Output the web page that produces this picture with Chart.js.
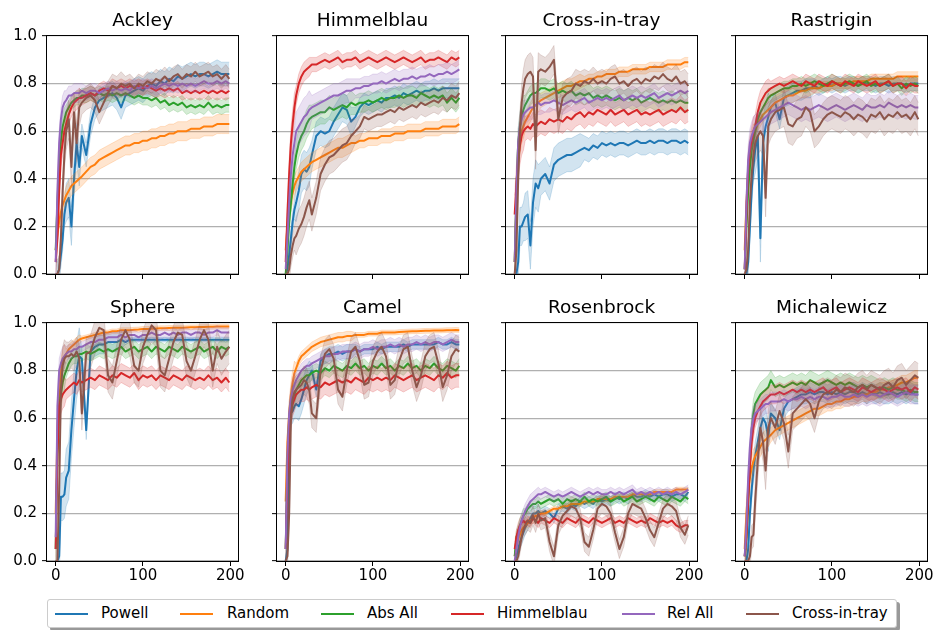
<!DOCTYPE html>
<html>
<head>
<meta charset="utf-8">
<script src="https://cdn.jsdelivr.net/npm/chart.js@4.4.0/dist/chart.umd.min.js"></script>
<style>
  html, body { margin: 0; padding: 0; background: #fff; }
  #fig { position: relative; width: 935px; height: 630px; overflow: hidden; font-family: "DejaVu Sans", sans-serif; }
  #fig canvas { position: absolute; }
  #legend { position: absolute; left: 47px; top: 599px; width: 848px; height: 27px; border: 1px solid #cccccc; border-radius: 3px; background: #fff; box-shadow: 3px 3px 0 #999; }
  .item { position: absolute; top: 0; height: 27px; line-height: 27px; font-size: 15px; color: #000; white-space: nowrap; }
  .swatch { position: absolute; top: 13px; width: 33px; height: 2px; }
</style>
</head>
<body>
<div id="fig"><div id="legend"></div></div>
<script>
const X = [0, 2, 4, 6, 8, 10, 12,
  15, 18, 21, 24, 27, 30,
  35, 40, 45, 50, 55, 60, 65, 70, 75, 80, 85, 90, 95, 100,
  105, 110, 115, 120, 125, 130, 135, 140, 145, 150, 155, 160, 165, 170, 175, 180, 185, 190, 195, 199];

const SERIES = ['Powell', 'Random', 'Abs All', 'Himmelblau', 'Rel All', 'Cross-in-tray'];
const COLORS = ['#1f77b4', '#ff7f0e', '#2ca02c', '#d62728', '#9467bd', '#8c564b'];

const X_TICKS = [0, 100, 200];
const Y_TICKS = [0, 0.2, 0.4, 0.6, 0.8, 1.0];

// band half width: from iteration 0, 12, 30, 80 on
const BAND_FROM = [0, 12, 30, 80];

// one list per series, in SERIES order
const ackley = [
  [0, 0, 0.02, 0.08, 0.15, 0.25, 0.30,
   0.32, 0.20, 0.40, 0.55, 0.45, 0.58,
   0.50, 0.63, 0.70, 0.73, 0.74, 0.75, 0.76, 0.74, 0.70, 0.75, 0.76, 0.77, 0.78, 0.77,
   0.79, 0.80, 0.79, 0.81, 0.80, 0.82, 0.81, 0.83, 0.82, 0.83, 0.84, 0.83, 0.84, 0.84, 0.83, 0.84, 0.85, 0.84, 0.84, 0.84],
  [0.10, 0.17, 0.22, 0.26, 0.29, 0.31, 0.33,
   0.35, 0.37, 0.38, 0.39, 0.40, 0.41,
   0.43, 0.45, 0.46, 0.48, 0.49, 0.50, 0.51, 0.52, 0.53, 0.54, 0.54, 0.55, 0.55, 0.56,
   0.56, 0.57, 0.57, 0.58, 0.58, 0.59, 0.59, 0.60, 0.60, 0.60, 0.61, 0.61, 0.61, 0.62, 0.62, 0.62, 0.63, 0.63, 0.63, 0.63],
  [0.10, 0.30, 0.45, 0.56, 0.62, 0.65, 0.68,
   0.70, 0.72, 0.73, 0.74, 0.74, 0.75,
   0.75, 0.76, 0.75, 0.76, 0.75, 0.76, 0.75, 0.76, 0.75, 0.76, 0.75, 0.74, 0.75, 0.74,
   0.74, 0.73, 0.74, 0.72, 0.73, 0.71, 0.72, 0.71, 0.72, 0.70, 0.71, 0.70, 0.71, 0.70, 0.72, 0.70, 0.71, 0.70, 0.71, 0.71],
  [0.05, 0.15, 0.35, 0.50, 0.55, 0.60, 0.63,
   0.67, 0.70, 0.72, 0.73, 0.74, 0.74,
   0.75, 0.76, 0.75, 0.77, 0.78, 0.77, 0.79, 0.78, 0.79, 0.78, 0.79, 0.78, 0.79, 0.78,
   0.79, 0.78, 0.77, 0.78, 0.77, 0.78, 0.77, 0.78, 0.76, 0.77, 0.76, 0.77, 0.76, 0.77, 0.76, 0.77, 0.76, 0.77, 0.76, 0.77],
  [0.05, 0.35, 0.55, 0.65, 0.70, 0.72, 0.73,
   0.75, 0.75, 0.76, 0.76, 0.76, 0.77,
   0.76, 0.77, 0.77, 0.76, 0.77, 0.78, 0.77, 0.78, 0.77, 0.78, 0.77, 0.79, 0.78, 0.79,
   0.78, 0.79, 0.78, 0.79, 0.80, 0.79, 0.80, 0.79, 0.80, 0.79, 0.80, 0.79, 0.80, 0.81, 0.80, 0.80, 0.81, 0.80, 0.81, 0.80],
  [0, 0, 0.02, 0.15, 0.35, 0.50, 0.60,
   0.65, 0.45, 0.68, 0.55, 0.70, 0.72,
   0.74, 0.75, 0.73, 0.68, 0.72, 0.76, 0.79, 0.78, 0.80, 0.79, 0.80, 0.78, 0.80, 0.79,
   0.81, 0.80, 0.82, 0.81, 0.83, 0.81, 0.83, 0.84, 0.82, 0.84, 0.83, 0.85, 0.83, 0.84, 0.85, 0.83, 0.84, 0.82, 0.84, 0.82]
];
const ackleyBand = [[0.05, 0.08, 0.05, 0.05], [0.03, 0.04, 0.04, 0.04], [0.05, 0.03, 0.03, 0.03],
                    [0.05, 0.04, 0.03, 0.03], [0.05, 0.04, 0.03, 0.03], [0.06, 0.08, 0.05, 0.04]];

const himmelblau = [
  [0, 0.02, 0.08, 0.15, 0.22, 0.27, 0.30,
   0.35, 0.42, 0.44, 0.43, 0.45, 0.50,
   0.58, 0.60, 0.59, 0.60, 0.64, 0.67, 0.70, 0.69, 0.64, 0.66, 0.70, 0.72, 0.71, 0.72,
   0.73, 0.72, 0.74, 0.74, 0.75, 0.74, 0.76, 0.75, 0.76, 0.77, 0.76, 0.77, 0.77, 0.78, 0.77, 0.78, 0.78, 0.78, 0.78, 0.78],
  [0.10, 0.20, 0.26, 0.31, 0.34, 0.37, 0.39,
   0.41, 0.43, 0.44, 0.45, 0.46, 0.47,
   0.48, 0.49, 0.50, 0.51, 0.52, 0.53, 0.53, 0.54, 0.55, 0.55, 0.56, 0.56, 0.57, 0.57,
   0.57, 0.58, 0.58, 0.58, 0.59, 0.59, 0.59, 0.60, 0.60, 0.60, 0.60, 0.61, 0.61, 0.61, 0.61, 0.62, 0.62, 0.62, 0.62, 0.63],
  [0, 0.10, 0.22, 0.30, 0.38, 0.45, 0.50,
   0.55, 0.58, 0.60, 0.63, 0.65, 0.66,
   0.67, 0.68, 0.68, 0.70, 0.69, 0.70, 0.71, 0.70, 0.72, 0.71, 0.72, 0.72, 0.73, 0.72,
   0.73, 0.74, 0.73, 0.74, 0.74, 0.75, 0.74, 0.75, 0.75, 0.74, 0.76, 0.75, 0.74, 0.75, 0.74, 0.75, 0.72, 0.74, 0.72, 0.74],
  [0.05, 0.25, 0.42, 0.55, 0.63, 0.70, 0.75,
   0.80, 0.83, 0.85, 0.86, 0.87, 0.88,
   0.88, 0.89, 0.90, 0.89, 0.90, 0.91, 0.89, 0.90, 0.90, 0.91, 0.89, 0.90, 0.91, 0.90,
   0.89, 0.90, 0.91, 0.90, 0.89, 0.90, 0.91, 0.90, 0.89, 0.90, 0.91, 0.89, 0.90, 0.90, 0.91, 0.90, 0.89, 0.91, 0.90, 0.91],
  [0.02, 0.15, 0.30, 0.42, 0.50, 0.55, 0.60,
   0.62, 0.64, 0.66, 0.67, 0.69, 0.70,
   0.71, 0.72, 0.73, 0.74, 0.75, 0.75, 0.76, 0.77, 0.77, 0.78, 0.78, 0.79, 0.79, 0.80,
   0.80, 0.81, 0.80, 0.81, 0.82, 0.81, 0.82, 0.82, 0.83, 0.82, 0.83, 0.83, 0.84, 0.83, 0.84, 0.84, 0.85, 0.84, 0.85, 0.86],
  [0, 0, 0.02, 0.08, 0.12, 0.15, 0.16,
   0.19, 0.21, 0.24, 0.28, 0.31, 0.25,
   0.32, 0.42, 0.46, 0.49, 0.50, 0.52, 0.54, 0.55, 0.58, 0.60, 0.62, 0.66, 0.65, 0.66,
   0.67, 0.67, 0.68, 0.69, 0.68, 0.70, 0.69, 0.70, 0.71, 0.70, 0.72, 0.71, 0.72, 0.73, 0.72, 0.74, 0.73, 0.75, 0.74, 0.76]
];
const himmelblauBand = [[0.04, 0.08, 0.06, 0.04], [0.04, 0.04, 0.04, 0.03], [0.05, 0.06, 0.05, 0.04],
                        [0.06, 0.04, 0.03, 0.03], [0.06, 0.08, 0.05, 0.04], [0.05, 0.08, 0.07, 0.05]];

const crossInTray = [
  [0, 0, 0.05, 0.20, 0.20, 0.22, 0.24,
   0.25, 0.12, 0.30, 0.38, 0.36, 0.40,
   0.42, 0.38, 0.46, 0.48, 0.49, 0.50, 0.50, 0.51, 0.52, 0.53, 0.52, 0.54, 0.53, 0.55,
   0.54, 0.55, 0.54, 0.55, 0.55, 0.54, 0.55, 0.56, 0.55, 0.55, 0.56, 0.55, 0.56, 0.56, 0.55, 0.56, 0.56, 0.55, 0.56, 0.55],
  [0.05, 0.30, 0.48, 0.55, 0.60, 0.62, 0.64,
   0.66, 0.68, 0.70, 0.71, 0.72, 0.73,
   0.74, 0.75, 0.76, 0.77, 0.78, 0.79, 0.79, 0.80, 0.81, 0.81, 0.82, 0.82, 0.83, 0.83,
   0.84, 0.84, 0.84, 0.85, 0.85, 0.85, 0.86, 0.86, 0.86, 0.86, 0.87, 0.87, 0.87, 0.87, 0.88, 0.88, 0.88, 0.88, 0.89, 0.89],
  [0.05, 0.35, 0.55, 0.62, 0.66, 0.69, 0.71,
   0.73, 0.75, 0.76, 0.76, 0.77, 0.78,
   0.78, 0.77, 0.78, 0.76, 0.77, 0.76, 0.77, 0.75, 0.76, 0.75, 0.76, 0.74, 0.75, 0.74,
   0.75, 0.74, 0.73, 0.74, 0.73, 0.74, 0.73, 0.74, 0.72, 0.73, 0.74, 0.73, 0.72, 0.73, 0.72, 0.73, 0.72, 0.73, 0.72, 0.72],
  [0.25, 0.38, 0.48, 0.54, 0.58, 0.60, 0.61,
   0.62, 0.61, 0.63, 0.62, 0.63, 0.64,
   0.63, 0.65, 0.64, 0.65, 0.64, 0.66, 0.65, 0.67, 0.68, 0.66, 0.68, 0.67, 0.69, 0.68,
   0.67, 0.69, 0.67, 0.68, 0.69, 0.67, 0.68, 0.69, 0.67, 0.68, 0.67, 0.68, 0.69, 0.67, 0.68, 0.69, 0.68, 0.70, 0.68, 0.69],
  [0.05, 0.35, 0.55, 0.62, 0.65, 0.67, 0.68,
   0.69, 0.70, 0.70, 0.71, 0.72, 0.71,
   0.72, 0.72, 0.73, 0.72, 0.71, 0.72, 0.73, 0.72, 0.73, 0.74, 0.72, 0.73, 0.74, 0.73,
   0.74, 0.73, 0.74, 0.75, 0.73, 0.74, 0.75, 0.74, 0.75, 0.74, 0.75, 0.76, 0.74, 0.75, 0.76, 0.75, 0.76, 0.77, 0.76, 0.77],
  [0, 0.10, 0.40, 0.60, 0.72, 0.78, 0.82,
   0.84, 0.85, 0.83, 0.52, 0.85, 0.86,
   0.85, 0.87, 0.90, 0.65, 0.74, 0.76, 0.77, 0.80, 0.79, 0.81, 0.80, 0.82, 0.80, 0.81,
   0.80, 0.82, 0.83, 0.80, 0.81, 0.79, 0.81, 0.82, 0.80, 0.82, 0.81, 0.83, 0.82, 0.84, 0.82, 0.81, 0.83, 0.80, 0.81, 0.79]
];
const crossInTrayBand = [[0.08, 0.10, 0.07, 0.05], [0.05, 0.04, 0.03, 0.02], [0.06, 0.04, 0.04, 0.04],
                         [0.08, 0.05, 0.05, 0.05], [0.06, 0.05, 0.04, 0.04], [0.08, 0.08, 0.06, 0.05]];

const rastrigin = [
  [0, 0, 0.05, 0.20, 0.35, 0.45, 0.52,
   0.58, 0.15, 0.55, 0.62, 0.66, 0.70,
   0.72, 0.65, 0.74, 0.75, 0.76, 0.77, 0.77, 0.78, 0.78, 0.79, 0.78, 0.79, 0.80, 0.79,
   0.80, 0.80, 0.79, 0.80, 0.80, 0.79, 0.80, 0.80, 0.80, 0.79, 0.80, 0.80, 0.79, 0.80, 0.80, 0.80, 0.79, 0.80, 0.80, 0.80],
  [0.10, 0.30, 0.42, 0.50, 0.55, 0.58, 0.60,
   0.63, 0.65, 0.67, 0.68, 0.69, 0.70,
   0.72, 0.73, 0.74, 0.75, 0.75, 0.76, 0.77, 0.77, 0.78, 0.78, 0.78, 0.79, 0.79, 0.79,
   0.80, 0.80, 0.80, 0.80, 0.81, 0.81, 0.81, 0.81, 0.82, 0.82, 0.82, 0.82, 0.82, 0.82, 0.83, 0.83, 0.83, 0.83, 0.83, 0.83],
  [0.02, 0.20, 0.35, 0.45, 0.52, 0.56, 0.60,
   0.65, 0.68, 0.70, 0.72, 0.74, 0.75,
   0.76, 0.77, 0.78, 0.78, 0.79, 0.79, 0.80, 0.79, 0.80, 0.81, 0.80, 0.79, 0.80, 0.81,
   0.80, 0.79, 0.80, 0.81, 0.80, 0.79, 0.80, 0.81, 0.79, 0.80, 0.79, 0.80, 0.81, 0.79, 0.80, 0.78, 0.80, 0.79, 0.80, 0.79],
  [0.02, 0.25, 0.45, 0.52, 0.56, 0.60, 0.62,
   0.68, 0.72, 0.74, 0.76, 0.77, 0.78,
   0.79, 0.80, 0.79, 0.80, 0.81, 0.80, 0.79, 0.81, 0.80, 0.79, 0.81, 0.80, 0.79, 0.81,
   0.80, 0.79, 0.81, 0.80, 0.79, 0.81, 0.80, 0.79, 0.80, 0.81, 0.79, 0.80, 0.81, 0.79, 0.80, 0.80, 0.78, 0.80, 0.79, 0.79],
  [0.02, 0.30, 0.48, 0.55, 0.58, 0.60, 0.62,
   0.63, 0.64, 0.65, 0.66, 0.67, 0.68,
   0.69, 0.70, 0.71, 0.72, 0.71, 0.70, 0.69, 0.70, 0.69, 0.70, 0.71, 0.70, 0.69, 0.70,
   0.71, 0.70, 0.69, 0.70, 0.71, 0.70, 0.69, 0.71, 0.70, 0.70, 0.71, 0.70, 0.72, 0.71, 0.70, 0.71, 0.70, 0.71, 0.70, 0.70],
  [0, 0.02, 0.10, 0.30, 0.42, 0.50, 0.55,
   0.58, 0.60, 0.58, 0.32, 0.62, 0.65,
   0.68, 0.69, 0.70, 0.63, 0.62, 0.65, 0.66, 0.70, 0.68, 0.60, 0.62, 0.65, 0.67, 0.68,
   0.67, 0.66, 0.68, 0.67, 0.65, 0.67, 0.66, 0.64, 0.67, 0.66, 0.68, 0.65, 0.67, 0.66, 0.68, 0.66, 0.67, 0.65, 0.68, 0.65]
];
const rastriginBand = [[0.06, 0.10, 0.04, 0.03], [0.05, 0.03, 0.03, 0.02], [0.05, 0.04, 0.03, 0.03],
                       [0.06, 0.05, 0.03, 0.03], [0.06, 0.05, 0.05, 0.05], [0.06, 0.08, 0.08, 0.07]];

const sphere = [
  [0, 0, 0.02, 0.27, 0.27, 0.28, 0.35,
   0.38, 0.55, 0.68, 0.80, 0.86, 0.85,
   0.55, 0.88, 0.90, 0.91, 0.91, 0.92, 0.92, 0.92, 0.93, 0.92, 0.93, 0.93, 0.93, 0.93,
   0.93, 0.93, 0.93, 0.93, 0.93, 0.93, 0.93, 0.93, 0.93, 0.93, 0.93, 0.93, 0.93, 0.93, 0.93, 0.93, 0.93, 0.93, 0.93, 0.93],
  [0.20, 0.55, 0.72, 0.80, 0.84, 0.86, 0.87,
   0.89, 0.90, 0.91, 0.92, 0.93, 0.935,
   0.94, 0.945, 0.95, 0.955, 0.96, 0.96, 0.965, 0.965, 0.97, 0.97, 0.97, 0.972, 0.973, 0.975,
   0.975, 0.976, 0.977, 0.978, 0.978, 0.979, 0.98, 0.98, 0.98, 0.981, 0.982, 0.982, 0.983, 0.983, 0.984, 0.984, 0.985, 0.985, 0.985, 0.985],
  [0.05, 0.45, 0.65, 0.70, 0.75, 0.78, 0.80,
   0.83, 0.85, 0.86, 0.86, 0.87, 0.87,
   0.88, 0.87, 0.88, 0.89, 0.88, 0.89, 0.88, 0.89, 0.90, 0.88, 0.89, 0.90, 0.88, 0.89,
   0.90, 0.88, 0.90, 0.89, 0.88, 0.90, 0.89, 0.88, 0.90, 0.89, 0.88, 0.89, 0.90, 0.88, 0.89, 0.90, 0.88, 0.90, 0.89, 0.90],
  [0.05, 0.45, 0.65, 0.68, 0.70, 0.71, 0.72,
   0.73, 0.74, 0.75, 0.74, 0.76, 0.75,
   0.76, 0.77, 0.76, 0.78, 0.77, 0.76, 0.78, 0.77, 0.79, 0.78, 0.77, 0.79, 0.76, 0.78,
   0.77, 0.78, 0.76, 0.78, 0.77, 0.76, 0.78, 0.77, 0.76, 0.78, 0.77, 0.76, 0.77, 0.76, 0.78, 0.76, 0.77, 0.75, 0.77, 0.75],
  [0.10, 0.65, 0.80, 0.83, 0.85, 0.86, 0.87,
   0.88, 0.88, 0.89, 0.89, 0.90, 0.90,
   0.91, 0.92, 0.92, 0.93, 0.93, 0.94, 0.94, 0.94, 0.95, 0.94, 0.95, 0.95, 0.94, 0.95,
   0.95, 0.96, 0.95, 0.95, 0.96, 0.95, 0.96, 0.95, 0.96, 0.96, 0.95, 0.96, 0.96, 0.95, 0.96, 0.96, 0.97, 0.96, 0.96, 0.96],
  [0, 0, 0.30, 0.72, 0.82, 0.85, 0.86,
   0.86, 0.87, 0.86, 0.88, 0.85, 0.62,
   0.87, 0.88, 0.94, 0.98, 0.97, 0.78, 0.75, 0.84, 0.93, 0.97, 0.93, 0.82, 0.80, 0.90,
   0.95, 0.99, 0.97, 0.80, 0.78, 0.85, 0.92, 0.96, 0.95, 0.84, 0.80, 0.86, 0.93, 0.97, 0.93, 0.80, 0.90, 0.85, 0.88, 0.90]
];
const sphereBand = [[0.10, 0.12, 0.04, 0.01], [0.05, 0.02, 0.01, 0.01], [0.06, 0.03, 0.03, 0.03],
                    [0.06, 0.04, 0.04, 0.04], [0.05, 0.03, 0.02, 0.02], [0.08, 0.06, 0.07, 0.07]];

const camel = [
  [0, 0.05, 0.55, 0.62, 0.63, 0.65, 0.66,
   0.65, 0.68, 0.72, 0.76, 0.78, 0.80,
   0.72, 0.84, 0.86, 0.87, 0.87, 0.88, 0.87, 0.88, 0.88, 0.89, 0.88, 0.89, 0.89, 0.89,
   0.90, 0.89, 0.90, 0.90, 0.90, 0.90, 0.91, 0.90, 0.91, 0.91, 0.91, 0.91, 0.91, 0.91, 0.92, 0.91, 0.91, 0.92, 0.91, 0.91],
  [0.25, 0.50, 0.62, 0.70, 0.75, 0.79, 0.81,
   0.84, 0.86, 0.87, 0.88, 0.89, 0.90,
   0.91, 0.92, 0.925, 0.93, 0.935, 0.94, 0.94, 0.945, 0.945, 0.95, 0.95, 0.95, 0.955, 0.955,
   0.955, 0.96, 0.96, 0.96, 0.96, 0.962, 0.963, 0.964, 0.965, 0.965, 0.966, 0.967, 0.967, 0.968, 0.968, 0.969, 0.97, 0.97, 0.971, 0.97],
  [0.05, 0.40, 0.60, 0.65, 0.68, 0.70, 0.72,
   0.74, 0.76, 0.77, 0.78, 0.78, 0.79,
   0.80, 0.79, 0.81, 0.80, 0.82, 0.81, 0.80, 0.82, 0.81, 0.83, 0.81, 0.82, 0.80, 0.82,
   0.81, 0.83, 0.81, 0.82, 0.80, 0.82, 0.81, 0.83, 0.81, 0.82, 0.80, 0.82, 0.81, 0.83, 0.81, 0.80, 0.82, 0.81, 0.80, 0.82],
  [0.05, 0.35, 0.55, 0.62, 0.66, 0.68, 0.70,
   0.71, 0.72, 0.72, 0.73, 0.72, 0.73,
   0.74, 0.73, 0.75, 0.74, 0.75, 0.76, 0.75, 0.76, 0.75, 0.77, 0.76, 0.75, 0.77, 0.76,
   0.77, 0.76, 0.77, 0.76, 0.78, 0.77, 0.76, 0.77, 0.78, 0.76, 0.77, 0.78, 0.77, 0.76, 0.78, 0.77, 0.79, 0.77, 0.78, 0.78],
  [0.05, 0.45, 0.62, 0.68, 0.72, 0.74, 0.76,
   0.78, 0.80, 0.81, 0.82, 0.82, 0.83,
   0.84, 0.85, 0.86, 0.86, 0.87, 0.87, 0.88, 0.88, 0.88, 0.89, 0.88, 0.89, 0.89, 0.90,
   0.89, 0.90, 0.90, 0.91, 0.90, 0.91, 0.90, 0.91, 0.91, 0.92, 0.91, 0.92, 0.91, 0.92, 0.92, 0.91, 0.92, 0.93, 0.92, 0.92],
  [0, 0.02, 0.20, 0.60, 0.68, 0.71, 0.72,
   0.73, 0.74, 0.76, 0.75, 0.72, 0.62,
   0.60, 0.80, 0.87, 0.89, 0.85, 0.72, 0.69, 0.80, 0.88, 0.90, 0.84, 0.74, 0.75, 0.84,
   0.88, 0.90, 0.86, 0.74, 0.76, 0.84, 0.89, 0.90, 0.80, 0.73, 0.78, 0.86, 0.89, 0.90, 0.83, 0.73, 0.78, 0.86, 0.89, 0.88]
];
const camelBand = [[0.05, 0.06, 0.03, 0.02], [0.05, 0.02, 0.02, 0.01], [0.05, 0.03, 0.03, 0.03],
                   [0.05, 0.05, 0.05, 0.05], [0.05, 0.03, 0.03, 0.03], [0.06, 0.06, 0.06, 0.06]];

const rosenbrock = [
  [0, 0.02, 0.05, 0.08, 0.10, 0.12, 0.14,
   0.16, 0.18, 0.20, 0.20, 0.21, 0.20,
   0.21, 0.20, 0.18, 0.22, 0.23, 0.22, 0.24, 0.23, 0.25, 0.24, 0.25, 0.24, 0.26, 0.25,
   0.26, 0.25, 0.27, 0.26, 0.27, 0.26, 0.28, 0.27, 0.27, 0.28, 0.27, 0.28, 0.27, 0.28, 0.28, 0.27, 0.28, 0.28, 0.27, 0.29],
  [0.02, 0.06, 0.09, 0.11, 0.13, 0.14, 0.15,
   0.16, 0.17, 0.18, 0.19, 0.19, 0.20,
   0.20, 0.21, 0.22, 0.22, 0.23, 0.23, 0.24, 0.24, 0.24, 0.25, 0.25, 0.25, 0.26, 0.26,
   0.26, 0.26, 0.27, 0.27, 0.27, 0.27, 0.28, 0.28, 0.28, 0.28, 0.28, 0.29, 0.29, 0.29, 0.29, 0.29, 0.30, 0.30, 0.30, 0.30],
  [0.02, 0.10, 0.12, 0.15, 0.17, 0.19, 0.20,
   0.22, 0.23, 0.24, 0.24, 0.25, 0.24,
   0.25, 0.26, 0.25, 0.26, 0.24, 0.26, 0.25, 0.26, 0.25, 0.27, 0.25, 0.26, 0.25, 0.26,
   0.27, 0.25, 0.26, 0.27, 0.25, 0.26, 0.27, 0.25, 0.26, 0.27, 0.26, 0.25, 0.27, 0.26, 0.25, 0.27, 0.26, 0.25, 0.27, 0.26],
  [0.05, 0.10, 0.13, 0.15, 0.16, 0.17, 0.16,
   0.17, 0.16, 0.18, 0.17, 0.16, 0.18,
   0.17, 0.16, 0.18, 0.17, 0.16, 0.18, 0.17, 0.16, 0.18, 0.17, 0.16, 0.18, 0.17, 0.16,
   0.17, 0.18, 0.16, 0.17, 0.16, 0.18, 0.17, 0.16, 0.17, 0.16, 0.18, 0.17, 0.16, 0.17, 0.16, 0.17, 0.15, 0.14, 0.15, 0.15],
  [0, 0.05, 0.10, 0.14, 0.17, 0.19, 0.21,
   0.23, 0.25, 0.26, 0.27, 0.28, 0.28,
   0.29, 0.28, 0.27, 0.28, 0.27, 0.28, 0.29, 0.28, 0.27, 0.28, 0.29, 0.28, 0.29, 0.28,
   0.28, 0.29, 0.28, 0.29, 0.28, 0.29, 0.30, 0.28, 0.29, 0.28, 0.29, 0.28, 0.29, 0.28, 0.29, 0.28, 0.29, 0.28, 0.29, 0.30],
  [0, 0, 0.02, 0.06, 0.10, 0.13, 0.15,
   0.17, 0.16, 0.19, 0.16, 0.20, 0.17,
   0.18, 0.08, 0.02, 0.15, 0.19, 0.21, 0.23, 0.22, 0.18, 0.08, 0.06, 0.13, 0.22, 0.24,
   0.23, 0.20, 0.12, 0.05, 0.10, 0.20, 0.24, 0.23, 0.22, 0.18, 0.13, 0.10, 0.16, 0.22, 0.24, 0.23, 0.21, 0.14, 0.11, 0.15]
];
const rosenbrockBand = [[0.03, 0.03, 0.02, 0.02], [0.02, 0.02, 0.01, 0.01], [0.03, 0.02, 0.02, 0.02],
                        [0.03, 0.02, 0.02, 0.02], [0.03, 0.03, 0.02, 0.02], [0.03, 0.04, 0.04, 0.04]];

const michalewicz = [
  [0, 0, 0.05, 0.20, 0.30, 0.38, 0.44,
   0.50, 0.56, 0.60, 0.58, 0.52, 0.62,
   0.60, 0.55, 0.64, 0.67, 0.68, 0.69, 0.70, 0.70, 0.71, 0.70, 0.71, 0.71, 0.70, 0.71,
   0.70, 0.71, 0.70, 0.71, 0.71, 0.70, 0.71, 0.70, 0.71, 0.70, 0.71, 0.70, 0.70, 0.71, 0.70, 0.71, 0.70, 0.71, 0.70, 0.70],
  [0.05, 0.20, 0.30, 0.35, 0.39, 0.42, 0.44,
   0.46, 0.48, 0.50, 0.51, 0.52, 0.53,
   0.55, 0.56, 0.57, 0.58, 0.59, 0.60, 0.61, 0.62, 0.63, 0.64, 0.64, 0.65, 0.66, 0.66,
   0.67, 0.67, 0.68, 0.68, 0.69, 0.69, 0.70, 0.70, 0.71, 0.71, 0.72, 0.72, 0.73, 0.73, 0.74, 0.75, 0.75, 0.76, 0.77, 0.77],
  [0.02, 0.10, 0.25, 0.42, 0.55, 0.62, 0.66,
   0.68, 0.70, 0.71, 0.72, 0.73, 0.76,
   0.73, 0.74, 0.73, 0.74, 0.75, 0.74, 0.75, 0.74, 0.76, 0.75, 0.74, 0.75, 0.76, 0.75,
   0.74, 0.75, 0.74, 0.75, 0.74, 0.73, 0.74, 0.73, 0.74, 0.73, 0.72, 0.73, 0.72, 0.73, 0.72, 0.72, 0.71, 0.72, 0.71, 0.71],
  [0.02, 0.10, 0.25, 0.40, 0.50, 0.56, 0.60,
   0.63, 0.65, 0.67, 0.68, 0.69, 0.70,
   0.70, 0.71, 0.70, 0.71, 0.72, 0.71, 0.72, 0.71, 0.72, 0.71, 0.72, 0.73, 0.71, 0.72,
   0.73, 0.71, 0.72, 0.73, 0.72, 0.71, 0.73, 0.72, 0.71, 0.72, 0.73, 0.72, 0.71, 0.72, 0.73, 0.72, 0.73, 0.71, 0.73, 0.72],
  [0.02, 0.15, 0.35, 0.48, 0.56, 0.60, 0.62,
   0.63, 0.64, 0.65, 0.66, 0.66, 0.67,
   0.67, 0.67, 0.68, 0.67, 0.68, 0.68, 0.69, 0.68, 0.69, 0.68, 0.69, 0.69, 0.68, 0.69,
   0.69, 0.70, 0.69, 0.69, 0.70, 0.69, 0.70, 0.69, 0.70, 0.70, 0.69, 0.70, 0.71, 0.70, 0.69, 0.70, 0.71, 0.70, 0.70, 0.70],
  [0, 0, 0, 0.02, 0.10, 0.11, 0.25,
   0.42, 0.56, 0.50, 0.38, 0.56, 0.60,
   0.56, 0.63, 0.58, 0.46, 0.62, 0.64, 0.66, 0.68, 0.66, 0.60, 0.67, 0.70, 0.71, 0.70,
   0.72, 0.71, 0.73, 0.72, 0.71, 0.73, 0.74, 0.72, 0.74, 0.73, 0.72, 0.74, 0.75, 0.73, 0.76, 0.77, 0.74, 0.76, 0.78, 0.77]
];
const michalewiczBand = [[0.05, 0.06, 0.04, 0.04], [0.05, 0.04, 0.03, 0.03], [0.06, 0.05, 0.04, 0.04],
                         [0.05, 0.04, 0.04, 0.04], [0.05, 0.04, 0.04, 0.04], [0.05, 0.08, 0.07, 0.06]];

const PANELS = [
  ['Ackley', ackley, ackleyBand],
  ['Himmelblau', himmelblau, himmelblauBand],
  ['Cross-in-tray', crossInTray, crossInTrayBand],
  ['Rastrigin', rastrigin, rastriginBand],
  ['Sphere', sphere, sphereBand],
  ['Camel', camel, camelBand],
  ['Rosenbrock', rosenbrock, rosenbrockBand],
  ['Michalewicz', michalewicz, michalewiczBand]
];

// figure layout (px)
const PANEL_LEFT = [47, 277, 506, 736];
const PANEL_TOP = [36, 323];
const PANEL_W = 191, PANEL_H = 238;
const SIDE = 47, TITLE_H = 36, XAXIS_H = 30;

Chart.defaults.font.family = '"DejaVu Sans", sans-serif';
Chart.defaults.color = '#000';

function withAlpha(hex, a) {
  const n = parseInt(hex.slice(1), 16);
  return 'rgba(' + (n >> 16) + ',' + ((n >> 8) & 255) + ',' + (n & 255) + ',' + a + ')';
}

function bandEdges(vals, widths) {
  const lo = [], hi = [];
  X.forEach((x, j) => {
    let k = 0;
    while (k < BAND_FROM.length - 1 && x >= BAND_FROM[k + 1]) k++;
    lo.push({x: x, y: vals[j] - widths[k]});
    hi.push({x: x, y: vals[j] + widths[k]});
  });
  return [lo, hi];
}

const framePlugin = {
  id: 'frame',
  afterDatasetsDraw(chart) {
    const a = chart.chartArea, ctx = chart.ctx;
    ctx.save();
    ctx.strokeStyle = '#000';
    ctx.lineWidth = 1;
    ctx.strokeRect(a.left - 0.5, a.top - 0.5, a.right - a.left + 1, a.bottom - a.top + 1);
    ctx.restore();
  }
};

function createPanel(idx) {
  const [name, series, bands] = PANELS[idx];
  const col = idx % 4, row = Math.floor(idx / 4);

  const canvas = document.createElement('canvas');
  const w = SIDE + PANEL_W + SIDE, h = TITLE_H + PANEL_H + XAXIS_H;
  canvas.width = w; canvas.height = h;
  canvas.style.width = w + 'px'; canvas.style.height = h + 'px';
  canvas.style.left = (PANEL_LEFT[col] - SIDE) + 'px';
  canvas.style.top = (PANEL_TOP[row] - TITLE_H) + 'px';
  document.getElementById('fig').appendChild(canvas);

  const datasets = [];
  series.forEach((vals, i) => {
    const [lo, hi] = bandEdges(vals, bands[i]);
    const loIndex = datasets.length;
    datasets.push({
      data: lo, yAxisID: 'y', borderColor: withAlpha(COLORS[i], 0.2), borderWidth: 1,
      pointRadius: 0, fill: false, order: 100 - 3 * i
    });
    datasets.push({
      data: hi, yAxisID: 'y', borderColor: withAlpha(COLORS[i], 0.2), borderWidth: 1,
      backgroundColor: withAlpha(COLORS[i], 0.2),
      pointRadius: 0, fill: loIndex, order: 99 - 3 * i
    });
    datasets.push({
      label: SERIES[i], yAxisID: 'y',
      data: X.map((x, j) => ({x: x, y: vals[j]})),
      borderColor: COLORS[i], borderWidth: 2, borderJoinStyle: 'round',
      pointRadius: 0, fill: false, order: 98 - 3 * i
    });
  });

  new Chart(canvas, {
    type: 'line',
    data: {datasets: datasets},
    plugins: [framePlugin],
    options: {
      responsive: false,
      animation: false,
      events: [],
      layout: {padding: 0},
      plugins: {
        legend: {display: false},
        tooltip: {enabled: false},
        title: {
          display: true, text: name, color: '#000',
          font: {size: 18.5, weight: 'normal'},
          padding: {top: 9.6, bottom: 4.2}
        }
      },
      scales: {
        x: {
          type: 'linear', min: -9.95, max: 208.95,
          afterBuildTicks: axis => { axis.ticks = X_TICKS.map(v => ({value: v})); },
          afterFit: scale => { scale.height = XAXIS_H; },
          border: {display: false},
          grid: {drawOnChartArea: false, drawTicks: true, tickLength: 5, tickColor: '#000', tickWidth: 1},
          ticks: {
            autoSkip: false, maxRotation: 0, padding: 1,
            font: {size: 15},
            callback: v => row === 1 ? String(v) : ''
          }
        },
        y: {
          position: 'left', min: 0, max: 1,
          afterBuildTicks: axis => { axis.ticks = Y_TICKS.map(v => ({value: v})); },
          afterFit: scale => { scale.width = SIDE; },
          border: {display: false},
          grid: {color: '#b0b0b0', lineWidth: 1.3, drawTicks: true, tickLength: 5, tickColor: '#000', tickWidth: 1},
          ticks: {
            autoSkip: false, padding: 5,
            font: {size: 15},
            callback: v => col === 0 ? v.toFixed(1) : ''
          }
        },
        // empty right-hand axis so the panel sits centred under its title
        yRight: {
          position: 'right', min: 0, max: 1,
          afterFit: scale => { scale.width = SIDE; },
          border: {display: false},
          grid: {display: false},
          ticks: {display: false}
        }
      }
    }
  });
}

PANELS.forEach((p, i) => createPanel(i));

// legend row below the panels
const LEGEND_LINE_X = [7, 132, 273, 403, 574, 698];
const LEGEND_TEXT_X = [53, 179, 319, 449, 619, 744];
const legend = document.getElementById('legend');
SERIES.forEach((name, i) => {
  const sw = document.createElement('div');
  sw.className = 'swatch';
  sw.style.left = LEGEND_LINE_X[i] + 'px';
  sw.style.background = COLORS[i];
  legend.appendChild(sw);
  const t = document.createElement('div');
  t.className = 'item';
  t.style.left = LEGEND_TEXT_X[i] + 'px';
  t.textContent = name;
  legend.appendChild(t);
});
</script>
</body>
</html>
